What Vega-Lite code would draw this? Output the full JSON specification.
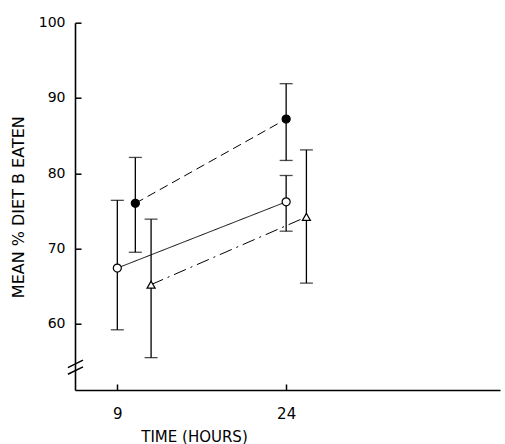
{
  "$schema": "https://vega.github.io/schema/vega-lite/v6.json",
  "width": 425,
  "height": 367.3,
  "autosize": "none",
  "padding": {"left": 75, "top": 22.7, "right": 5, "bottom": 54},
  "background": "white",
  "config": {
    "view": {"stroke": null},
    "font": "DejaVu Sans",
    "axis": {"grid": false, "domainColor": "black", "tickColor": "black", "labelColor": "black", "titleColor": "black", "labelFont": "DejaVu Sans", "titleFont": "DejaVu Sans", "titleFontWeight": "normal", "domainWidth": 1.6, "tickWidth": 1.5},
    "legend": {"orient": "none", "legendX": 277, "legendY": 48, "symbolSize": 1600, "symbolStrokeWidth": 1, "symbolStrokeColor": "black", "labelFont": "DejaVu Sans", "labelFontSize": 13.5, "labelColor": "black", "labelOffset": 10, "rowPadding": 20}
  },
  "datasets": {
    "pts": [
      {"series": "EXPERIMENTAL", "hours": 10.6, "mean": 76.0, "lo": 69.5, "hi": 82.1},
      {"series": "EXPERIMENTAL", "hours": 24.0, "mean": 87.2, "lo": 81.7, "hi": 91.9},
      {"series": "CONTROL", "hours": 9.0, "mean": 67.4, "lo": 59.2, "hi": 76.4},
      {"series": "CONTROL", "hours": 24.0, "mean": 76.2, "lo": 72.3, "hi": 79.7},
      {"series": "BASELINE", "hours": 12.0, "mean": 65.2, "lo": 55.5, "hi": 73.9},
      {"series": "BASELINE", "hours": 25.8, "mean": 74.2, "lo": 65.4, "hi": 83.1}
    ],
    "keys": [
      {"key": "EXPERIMENTAL"},
      {"key": "CONTROL"},
      {"key": "BASELINE"}
    ],
    "breaks": [
      {"x1": 4.61, "x2": 5.95, "y1": 54.17, "y2": 55.16},
      {"x1": 4.61, "x2": 5.95, "y1": 53.29, "y2": 54.27}
    ]
  },
  "layer": [
    {
      "data": {"name": "pts"},
      "mark": {"type": "line", "color": "black", "strokeWidth": 1},
      "encoding": {
        "x": {"field": "hours", "type": "quantitative", "scale": {"domain": [5.24, 43], "nice": false, "zero": false},
          "axis": {"values": [9, 24], "tickSize": -6, "labelPadding": 22, "labelFontSize": 15, "title": "TIME (HOURS)", "titleFontSize": 15, "titleX": 119, "titleY": 46, "titleBaseline": "middle", "titleAnchor": null}},
        "y": {"field": "mean", "type": "quantitative", "scale": {"domain": [51.2, 100], "nice": false, "zero": false},
          "axis": {"values": [60, 70, 80, 90, 100], "tickSize": -6, "labelPadding": 16, "labelFontSize": 14, "title": "MEAN % DIET B EATEN", "titleFontSize": 16, "titleX": -57, "titleY": 184, "titleBaseline": "middle", "titleAngle": -90}},
        "detail": {"field": "series"},
        "strokeDash": {"field": "series", "type": "nominal", "legend": null,
          "scale": {"domain": ["EXPERIMENTAL", "CONTROL", "BASELINE"], "range": [[9, 5], [1, 0], [13, 5, 2, 5]]}}
      }
    },
    {
      "data": {"name": "pts"},
      "mark": {"type": "rule", "color": "black", "strokeWidth": 1.3},
      "encoding": {
        "x": {"field": "hours", "type": "quantitative"},
        "y": {"field": "lo", "type": "quantitative"},
        "y2": {"field": "hi"}
      }
    },
    {
      "data": {"name": "pts"},
      "mark": {"type": "tick", "orient": "horizontal", "color": "black", "size": 13, "thickness": 1.3},
      "encoding": {
        "x": {"field": "hours", "type": "quantitative"},
        "y": {"field": "lo", "type": "quantitative"}
      }
    },
    {
      "data": {"name": "pts"},
      "mark": {"type": "tick", "orient": "horizontal", "color": "black", "size": 13, "thickness": 1.3},
      "encoding": {
        "x": {"field": "hours", "type": "quantitative"},
        "y": {"field": "hi", "type": "quantitative"}
      }
    },
    {
      "data": {"name": "pts"},
      "transform": [{"filter": "datum.series !== 'BASELINE'"}],
      "mark": {"type": "point", "shape": "circle", "filled": true, "stroke": "black", "strokeWidth": 1.2, "size": 65, "opacity": 1},
      "encoding": {
        "x": {"field": "hours", "type": "quantitative"},
        "y": {"field": "mean", "type": "quantitative"},
        "fill": {"condition": {"test": "datum.series === 'EXPERIMENTAL'", "value": "black"}, "value": "white"}
      }
    },
    {
      "data": {"name": "pts"},
      "transform": [{"filter": "datum.series === 'BASELINE'"}],
      "mark": {"type": "point", "shape": "triangle-up", "filled": true, "fill": "white", "stroke": "black", "strokeWidth": 1.2, "size": 65, "opacity": 1},
      "encoding": {
        "x": {"field": "hours", "type": "quantitative"},
        "y": {"field": "mean", "type": "quantitative"}
      }
    },
    {
      "data": {"name": "keys"},
      "transform": [{"filter": "false"}],
      "mark": {"type": "point", "filled": true, "stroke": "black", "strokeWidth": 1, "size": 1600, "opacity": 1},
      "encoding": {
        "shape": {"field": "key", "type": "nominal", "title": null,
          "legend": {"encode": {"symbols": {"stroke": {"value": "black"}, "strokeWidth": {"value": 1}}}},
          "scale": {"domain": ["EXPERIMENTAL", "CONTROL", "BASELINE"], "range": [
            "M-0.95,0L-0.8,0M-0.65,0L-0.5,0M-0.35,0L-0.21,0M-0.2,0A0.2,0.2 0 1,0 0.2,0A0.2,0.2 0 1,0 -0.2,0ZM0.21,0L0.35,0M0.5,0L0.65,0M0.8,0L0.95,0",
            "M-0.95,0L-0.2,0M-0.2,0A0.2,0.2 0 1,0 0.2,0A0.2,0.2 0 1,0 -0.2,0ZM0.2,0L0.95,0",
            "M-0.95,0L-0.75,0M-0.6,0L-0.4,0M-0.3,0L-0.22,0M0,-0.24L0.2,0.12L-0.2,0.12ZM0.22,0L0.3,0M0.4,0L0.6,0M0.75,0L0.95,0"
          ]}},
        "fill": {"field": "key", "type": "nominal", "title": null,
          "legend": {"encode": {"symbols": {"stroke": {"value": "black"}, "strokeWidth": {"value": 1}}}},
          "scale": {"domain": ["EXPERIMENTAL", "CONTROL", "BASELINE"], "range": ["black", "white", "white"]}}
      }
    },
    {
      "data": {"name": "breaks"},
      "mark": {"type": "rule", "color": "black", "strokeWidth": 1.5},
      "encoding": {
        "x": {"field": "x1", "type": "quantitative"},
        "x2": {"field": "x2"},
        "y": {"field": "y1", "type": "quantitative"},
        "y2": {"field": "y2"}
      }
    }
  ]
}
